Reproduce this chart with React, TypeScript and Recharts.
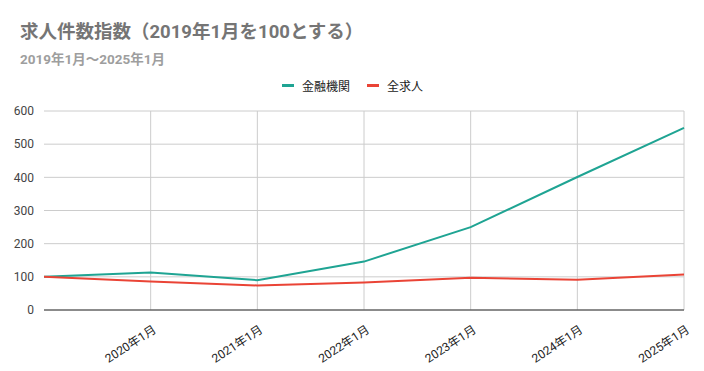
import React from 'react';
import { LineChart, Line, XAxis, YAxis, CartesianGrid } from 'recharts';

const months = ['2019年1月', '2020年1月', '2021年1月', '2022年1月', '2023年1月', '2024年1月', '2025年1月'];
const financeIndex = [100, 113, 90, 146, 250, 401, 549];
const allJobsIndex = [100, 86, 74, 83, 97, 91, 107];
const yTicks = [0, 100, 200, 300, 400, 500, 600];

const TEAL = '#1fa493';
const RED = '#ea4436';
const FONT = 'Roboto, "Noto Sans CJK JP", sans-serif';

const data = months.map((m, i) => ({
  month: m,
  finance: financeIndex[i],
  all: allJobsIndex[i],
}));

// first month has no label in the original
const MonthTick = (props: any) => {
  const { x, y, payload, index } = props;
  if (index === 0) return null;
  return (
    <g transform={`translate(${x + 2},${y + 7}) rotate(-33)`}>
      <text x={0} y={0} dy={8} textAnchor="end" fontSize={12} fill="#222" fontFamily={FONT}>
        {payload.value}
      </text>
    </g>
  );
};

const App: React.FC = () => {
  return (
    <div style={{ position: 'absolute', left: 0, top: 0, width: 704, height: 371, background: '#fff', fontFamily: FONT }}>
      <div style={{ position: 'absolute', left: 20, top: 17, fontSize: 18.5, fontWeight: 700, color: '#757575' }}>
        求人件数指数（2019年1月を100とする）
      </div>
      <div style={{ position: 'absolute', left: 20, top: 48, fontSize: 13.5, fontWeight: 700, color: '#9e9e9e' }}>
        2019年1月～2025年1月
      </div>
      <div style={{ position: 'absolute', left: 282, top: 77, display: 'flex', alignItems: 'center', fontSize: 12, color: '#222' }}>
        <span style={{ width: 12, height: 3, background: TEAL, display: 'inline-block', marginRight: 8 }} />
        <span style={{ marginRight: 17 }}>金融機関</span>
        <span style={{ width: 12, height: 3, background: RED, display: 'inline-block', marginRight: 8 }} />
        <span>全求人</span>
      </div>
      <LineChart width={704} height={371} data={data} margin={{ top: 111, right: 20, left: 0, bottom: 0 }}>
        <CartesianGrid
          stroke="#cccccc"
          verticalCoordinatesGenerator={({ offset }: any) =>
            months.slice(1).map((_, i) => offset.left + ((i + 1) * offset.width) / (months.length - 1))
          }
        />
        <XAxis
          dataKey="month"
          height={61}
          tick={<MonthTick />}
          tickLine={false}
          axisLine={{ stroke: '#333' }}
          interval={0}
        />
        <YAxis
          width={44}
          domain={[0, 600]}
          ticks={yTicks}
          tickLine={false}
          axisLine={false}
          tick={{ fontSize: 12, fill: '#444', fontFamily: FONT }}
          tickMargin={4}
        />
        <Line type="linear" dataKey="finance" stroke={TEAL} strokeWidth={2} dot={false} isAnimationActive={false} />
        <Line type="linear" dataKey="all" stroke={RED} strokeWidth={2} dot={false} isAnimationActive={false} />
      </LineChart>
    </div>
  );
};

export default App;
